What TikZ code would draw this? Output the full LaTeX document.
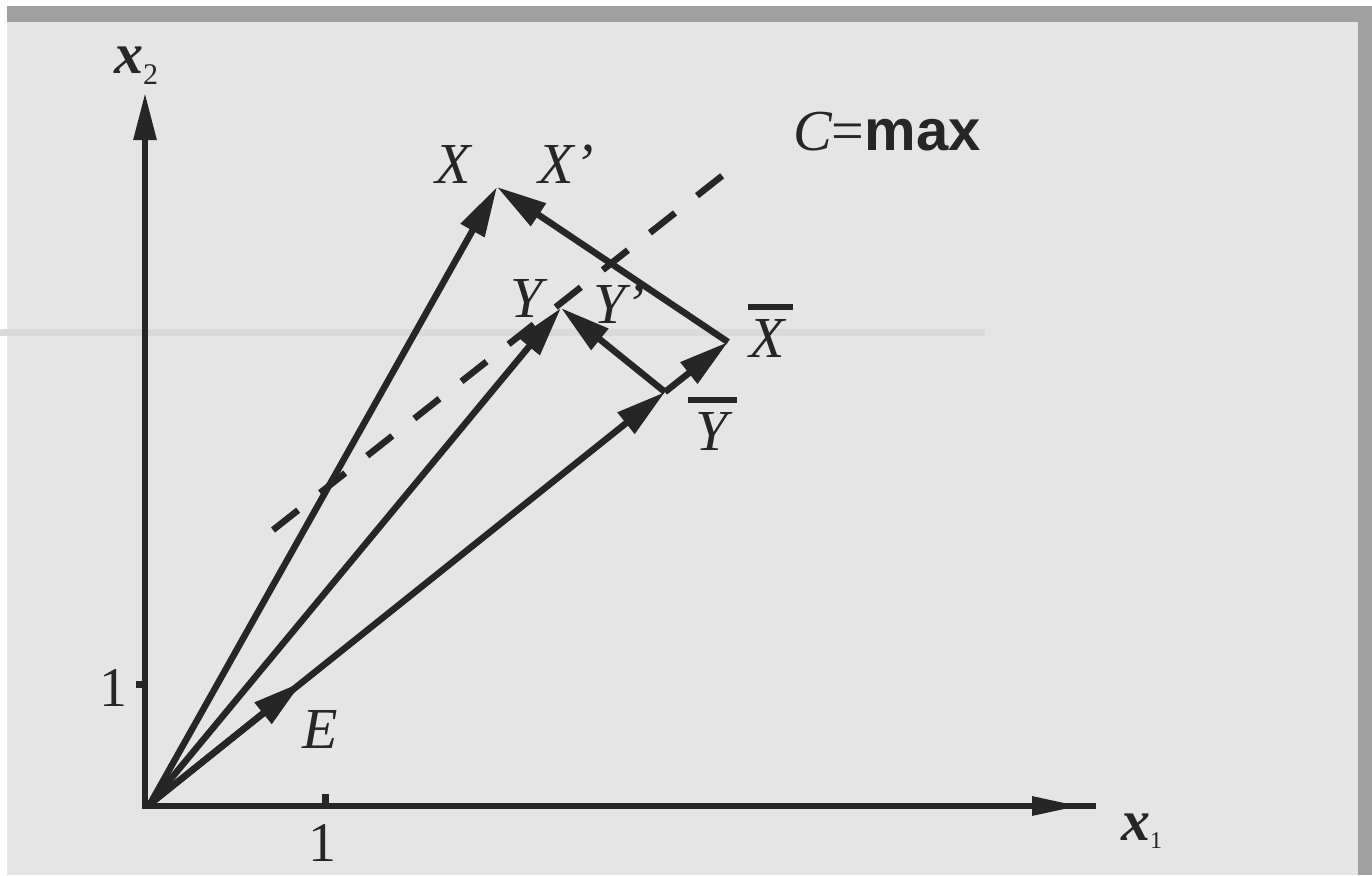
\documentclass[tikz,border=0pt]{standalone}
\usepackage{fontspec}
\setmainfont{Liberation Serif}
\setsansfont{Liberation Sans}
\usetikzlibrary{arrows.meta}
\definecolor{ink}{HTML}{262626}
\definecolor{bgc}{HTML}{E5E5E5}
\definecolor{framec}{HTML}{A0A0A0}
\definecolor{bandc}{HTML}{DADADA}
\begin{document}
\begin{tikzpicture}[x=1pt,y=-1pt,
  vec/.style={draw=ink,line width=6.5pt,-{Triangle[length=50pt,width=26pt]}},
  axisline/.style={draw=ink,line width=6pt},
  tickmark/.style={draw=ink,line width=7pt},
  lbl/.style={inner sep=0pt,text=ink,font=\fontsize{58}{60}\selectfont\itshape,anchor=base},
  num/.style={inner sep=0pt,text=ink,font=\fontsize{56}{60}\selectfont,anchor=base},
  cline/.style={draw=ink,line width=6.5pt,dash pattern=on 32pt off 28pt},
  ovbar/.style={draw=ink,line width=6pt}]
% frame and background
\useasboundingbox (0,0) rectangle (1372,875);
\fill[white] (0,0) rectangle (1372,875);
\fill[framec] (7,6) rectangle (1372,22);
\fill[framec] (1358,6) rectangle (1372,875);
\fill[bgc] (7,22) rectangle (1358,875);
\fill[bandc] (0,329) rectangle (985,336);
% coordinates
\coordinate (O) at (150,804);
\coordinate (A1s) at (142,806);
\coordinate (A1e) at (1096,806);
\coordinate (A1h) at (1030,806);
\coordinate (A1t) at (1080,806);
\coordinate (A2s) at (145,809);
\coordinate (A2e) at (145,93);
\coordinate (T1a) at (325,806);
\coordinate (T1b) at (325,794);
\coordinate (T2a) at (145,684);
\coordinate (T2b) at (136,684);
\coordinate (X) at (497,187);
\coordinate (Y) at (561,308);
\coordinate (Yb) at (665,392);
\coordinate (Xb) at (728,342);
\coordinate (E) at (302,682);
\coordinate (D1) at (273,530);
\coordinate (D2) at (727,172);
% axes
\draw[axisline] (A1s) -- (A1e);
\draw[axisline,-{Triangle[length=48pt,width=18pt]}] (A1h) -- (A1t);
\draw[axisline,-{Triangle[length=47pt,width=22pt]}] (A2s) -- (A2e);
\draw[tickmark] (T1a) -- (T1b);
\draw[tickmark] (T2a) -- (T2b);
% dashed line C = max
\draw[cline] (D1) -- (D2);
% vectors
\draw[vec] (O) -- (X);
\draw[vec] (O) -- (Y);
\draw[vec] (O) -- (E);
\draw[vec] (O) -- (Yb);
\draw[vec] (Yb) -- (Xb);
\draw[vec] (Xb) -- (X);
\draw[vec] (Yb) -- (Y);
% labels
\node[lbl] (lX) at (453,183) {X};
\node[lbl] (lXp) at (566,183) {X’};
\node[lbl] (lC) at (887,150) {C{\upshape=}{\upshape\sffamily\bfseries max}};
\node[lbl] (lY) at (527,317) {Y};
\node[lbl] (lYp) at (619,323) {Y’};
\node[lbl] (lXb) at (767,357) {X};
\draw[ovbar] (748,307) -- (793,307);
\node[lbl] (lYb) at (712,450) {Y};
\draw[ovbar] (688,400) -- (737,400);
\node[lbl] (lE) at (320,748) {E};
\node[lbl,anchor=base west,font=\fontsize{58}{60}\selectfont\bfseries\itshape] (lx2) at (114,74) {x\raisebox{-11pt}{\fontsize{30}{30}\selectfont\mdseries\upshape 2}};
\node[lbl,anchor=base west,font=\fontsize{58}{60}\selectfont\bfseries\itshape] (lx1) at (1121,840) {x\raisebox{-8pt}{\fontsize{24}{24}\selectfont\mdseries\upshape 1}};
\node[num] (n2) at (113,706) {1};
\node[num] (n1) at (322,861) {1};
\end{tikzpicture}
\end{document}
